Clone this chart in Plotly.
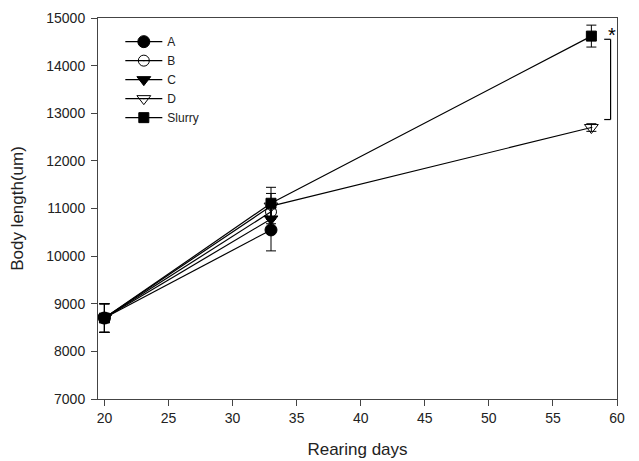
import plotly.graph_objects as go

# Data
days_short = [20, 33]
days_long = [20, 33, 58]

a_vals = [8700, 10550]
a_err = [300, 440]
b_vals = [8700, 10930]
b_err = [300, 250]
c_vals = [8700, 10780]
c_err = [300, 250]
d_vals = [8700, 11050, 12700]
d_err = [300, 266, 80]
slurry_vals = [8700, 11110, 14620]
slurry_err = [300, 335, 230]

series = [
    ("A", days_short, a_vals, a_err, "circle", 12),
    ("B", days_short, b_vals, b_err, "circle-open-dot", 11),
    ("C", days_short, c_vals, c_err, "triangle-down", 12),
    ("D", days_long, d_vals, d_err, "triangle-down-open-dot", 12),
    ("Slurry", days_long, slurry_vals, slurry_err, "square", 10),
]

FONT = "Liberation Sans, Arial, sans-serif"

fig = go.Figure()
for name, xs, ys, errs, sym, size in series:
    fig.add_trace(go.Scatter(
        x=xs, y=ys, name=name, mode="lines+markers",
        line=dict(color="black", width=1.2),
        marker=dict(symbol=sym, size=size, color="black",
                    line=dict(color="black", width=1)),
        error_y=dict(type="data", array=errs, visible=True,
                     color="black", thickness=1, width=5),
    ))

# significance bracket between Slurry and D at day 58
bx = 59.5
btick = 59.0
btop = 14553
bbot = 12868
for (x0, y0, x1, y1) in [(bx, btop, bx, bbot), (btick, btop, bx, btop), (btick, bbot, bx, bbot)]:
    fig.add_shape(type="line", x0=x0, y0=y0, x1=x1, y1=y1, xref="x", yref="y",
                  line=dict(color="black", width=1.2))
fig.add_annotation(x=59.6, y=14640, text="*", showarrow=False,
                   xanchor="center", yanchor="middle",
                   font=dict(family=FONT, size=20, color="black"))

axis_common = dict(
    showline=True, linecolor="#444", linewidth=1, mirror=True,
    ticks="outside", ticklen=6, tickcolor="#444", tickwidth=1,
    showgrid=False, zeroline=False, automargin=False,
    tickfont=dict(family=FONT, size=14, color="#222"),
)

# page body has an 8px margin, so the figure is sized 8px smaller
fig.update_layout(
    width=631, height=453,
    margin=dict(l=90, r=22, t=10, b=62),
    paper_bgcolor="white", plot_bgcolor="white",
    font=dict(family=FONT, color="#222"),
    showlegend=True,
    legend=dict(x=0.043, y=0.976, xanchor="left", yanchor="top",
                bgcolor="rgba(0,0,0,0)", borderwidth=0,
                font=dict(family=FONT, size=12, color="#222"),
                tracegroupgap=0, itemwidth=37),
    xaxis=dict(range=[19.5, 60], tick0=20, dtick=5,
               title=dict(text="Rearing days", font=dict(family=FONT, size=17, color="#222"), standoff=18),
               **axis_common),
    yaxis=dict(range=[7000, 15000], tick0=7000, dtick=1000, tickformat="d",
               ticklabelstandoff=3,
               title=dict(text="Body length(um)", font=dict(family=FONT, size=17, color="#222"), standoff=21),
               **axis_common),
)

fig.write_html("out.html")
